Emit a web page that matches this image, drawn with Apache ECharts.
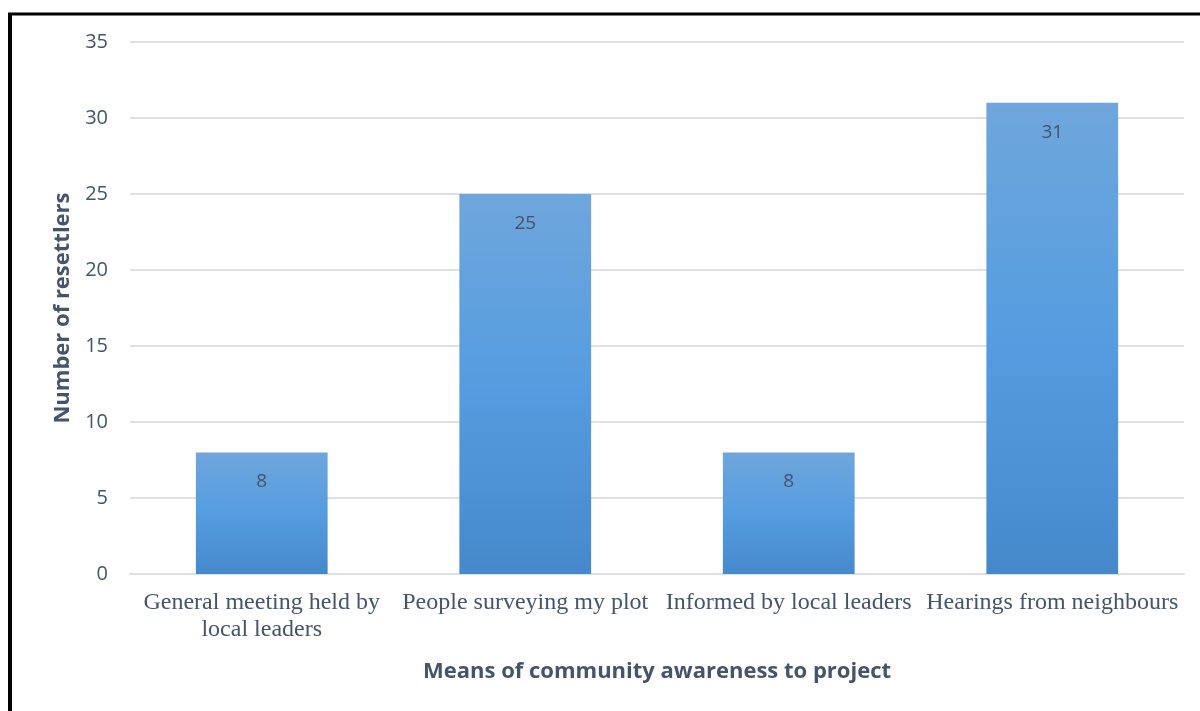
<!DOCTYPE html>
<html>
<head>
<meta charset="utf-8">
<script src="https://cdn.jsdelivr.net/npm/echarts@6/dist/echarts.min.js"></script>
<style>
html,body{margin:0;padding:0;background:#fff;}
#chart{width:1200px;height:711px;}
</style>
</head>
<body>
<div id="chart"></div>
<script>
const categories = ["General meeting held by\nlocal leaders", "People surveying my plot", "Informed by local leaders", "Hearings from neighbours"];
const values = [8, 25, 8, 31];
const yTicks = [0, 5, 10, 15, 20, 25, 30, 35];
const xTitle = "Means of community awareness to project";
const yTitle = "Number of resettlers";

const textColor = '#44546a';
const gridColor = '#dde1e6';

const chart = echarts.init(document.getElementById('chart'), null, {renderer: 'canvas'});
chart.setOption({
  animation: false,
  backgroundColor: '#fff',
  grid: {left: 130, right: 16, top: 42, bottom: 137, containLabel: false},
  xAxis: {
    type: 'category',
    data: categories,
    axisLine: {show: true, lineStyle: {color: gridColor, width: 2}},
    axisTick: {show: false},
    axisLabel: {
      color: textColor, fontFamily: 'Liberation Serif', fontSize: 24,
      margin: 15, lineHeight: 27, interval: 0
    },
    name: xTitle,
    nameLocation: 'middle',
    nameGap: 87,
    nameTextStyle: {color: textColor, fontFamily: 'Open Sans', fontWeight: 'bold', fontSize: 22}
  },
  yAxis: {
    type: 'value',
    min: yTicks[0],
    max: yTicks[yTicks.length - 1],
    interval: yTicks[1] - yTicks[0],
    axisLine: {show: false},
    axisTick: {show: false},
    splitLine: {lineStyle: {color: gridColor, width: 2}},
    axisLabel: {color: textColor, fontFamily: 'Open Sans', fontSize: 20, margin: 22},
    name: yTitle,
    nameLocation: 'middle',
    nameGap: 56,
    nameTextStyle: {color: textColor, fontFamily: 'Open Sans', fontWeight: 'bold', fontSize: 22}
  },
  series: [{
    type: 'bar',
    data: values,
    barWidth: '50%',
    itemStyle: {
      color: new echarts.graphic.LinearGradient(0, 0, 0, 1, [
        {offset: 0, color: '#6fa6dc'},
        {offset: 0.5, color: '#559de0'},
        {offset: 1, color: '#4589cb'}
      ])
    },
    label: {
      show: true, position: 'insideTop', distance: 20,
      color: textColor, fontFamily: 'Open Sans', fontSize: 19
    }
  }],
  graphic: [
    {type: 'line', shape: {x1: 10, y1: 13, x2: 10, y2: 711}, style: {stroke: '#000', lineWidth: 4}},
    {type: 'line', shape: {x1: 8, y1: 14, x2: 1200, y2: 14}, style: {stroke: '#000', lineWidth: 3}}
  ]
});
</script>
</body>
</html>
